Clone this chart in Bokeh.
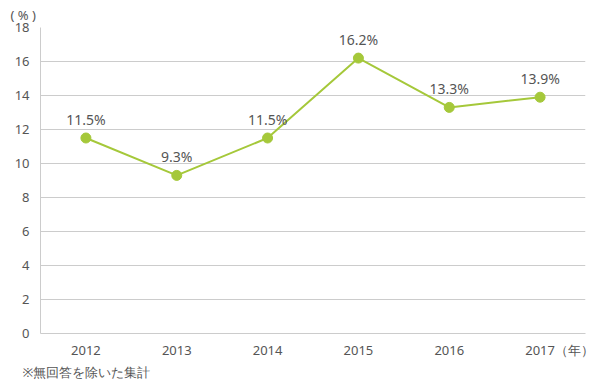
from bokeh.plotting import figure
from bokeh.models import ColumnDataSource, LabelSet, Title, Range1d, FixedTicker
from bokeh.core.properties import value
from bokeh.embed import file_html
from bokeh.resources import INLINE

years = ["2012", "2013", "2014", "2015", "2016", "2017"]
values = [11.5, 9.3, 11.5, 16.2, 13.3, 13.9]
labels = ["11.5%", "9.3%", "11.5%", "16.2%", "13.3%", "13.9%"]
y_ticks = [0, 2, 4, 6, 8, 10, 12, 14, 16, 18]
y_unit = "( % )"
x_unit = "（年）"
note = "※無回答を除いた集計"

GREEN = "#a5c83a"
TEXT = "#555555"
GRID = "#cccccc"
FONT = "Noto Sans"

xs = list(range(len(years)))
src = ColumnDataSource(dict(x=xs, y=values, t=labels))

p = figure(width=610, height=380, x_range=Range1d(-0.5, len(years) - 0.5), y_range=Range1d(0, 18),
           output_backend="svg", toolbar_location=None,
           min_border_left=40, min_border_right=25, min_border_top=27, min_border_bottom=47)
p.outline_line_color = None
p.background_fill_color = "white"
p.border_fill_color = "white"

p.xgrid.grid_line_color = None
p.ygrid.grid_line_color = GRID
p.ygrid.grid_line_width = 1

p.yaxis.ticker = FixedTicker(ticks=y_ticks)
p.xaxis.ticker = FixedTicker(ticks=xs)
overrides = {i: y for i, y in zip(xs, years)}
# last year label carries the unit; ideographic spaces keep the year centred
overrides[xs[-1]] = "\u3000\u3000\u3000" + years[-1] + x_unit
p.xaxis.major_label_overrides = overrides
for ax in (p.xaxis[0], p.yaxis[0]):
    ax.axis_line_color = GRID
    ax.major_tick_line_color = None
    ax.minor_tick_line_color = None
    ax.major_label_text_color = TEXT
    ax.major_label_text_font = FONT
    ax.major_label_text_font_size = "13px"
p.yaxis.major_label_standoff = 5
p.xaxis.major_label_standoff = 1

p.line("x", "y", source=src, line_color=GREEN, line_width=2)
p.scatter("x", "y", source=src, size=10, fill_color=GREEN, line_color=GREEN)

p.add_layout(LabelSet(x="x", y="y", text="t", source=src, y_offset=9, text_align="center",
                      text_color=TEXT, text_font=value(FONT), text_font_size="14px"))

p.add_layout(Title(text=y_unit, align="left", offset=-30, standoff=7,
                   text_color=TEXT, text_font=FONT, text_font_size="13px",
                   text_font_style="normal"), "above")
p.add_layout(Title(text=note, align="left", offset=-18, standoff=-2,
                   text_color=TEXT, text_font=FONT, text_font_size="13px",
                   text_font_style="normal"), "below")

open("out.html", "w").write(file_html(p, INLINE))
